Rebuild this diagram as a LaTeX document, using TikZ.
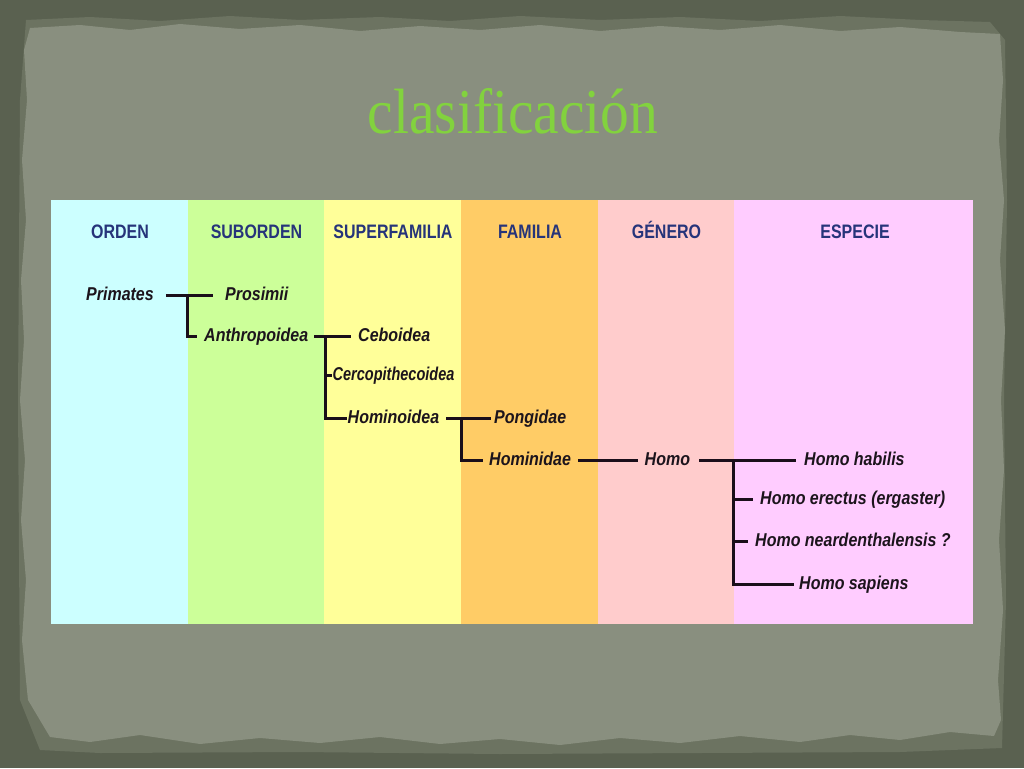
\documentclass[tikz,border=0pt]{standalone}
\usepackage{fontspec}
\newfontfamily\labf[FakeStretch=0.86]{Liberation Sans}
\newfontfamily\cercof[FakeStretch=0.78]{Liberation Sans}
\newfontfamily\headf[FakeStretch=0.82]{Liberation Sans}
\newfontfamily\titlef[FakeStretch=0.9]{Liberation Serif}
\definecolor{outerc}{RGB}{90,97,80}
\definecolor{fringec}{RGB}{108,115,97}
\definecolor{paperc}{RGB}{137,143,127}
\definecolor{titlec}{RGB}{130,210,62}
\definecolor{headc}{RGB}{38,52,122}
\definecolor{labc}{RGB}{28,20,28}
\definecolor{linec}{RGB}{26,14,26}
\definecolor{c1}{RGB}{204,255,255}
\definecolor{c2}{RGB}{204,255,153}
\definecolor{c3}{RGB}{255,255,153}
\definecolor{c4}{RGB}{255,204,102}
\definecolor{c5}{RGB}{255,204,204}
\definecolor{c6}{RGB}{255,204,255}
\tikzset{
  tree/.style={line width=3pt, draw=linec},
  lab/.style={font=\labf\bfseries\itshape\fontsize{18.6}{20}\selectfont, text=labc, inner sep=0pt, anchor=west, text height=13.5pt, text depth=3.5pt},
  cerco/.style={lab, font=\cercof\bfseries\itshape\fontsize{18.6}{20}\selectfont},
  head/.style={font=\headf\bfseries\fontsize{19.5}{21}\selectfont, text=headc, inner sep=0pt, anchor=base},
}
\begin{document}
\begin{tikzpicture}[x=1pt,y=-1pt]
\useasboundingbox (0,0) rectangle (1024,768);
% background
\fill[outerc] (0,0) rectangle (1024,768);
% torn fringe
\fill[fringec] (26,20) -- (90,17) -- (160,21) -- (230,16) -- (300,20) -- (380,17) -- (450,21) -- (520,16) -- (600,20) -- (680,17) -- (760,21) -- (840,16) -- (920,20) -- (990,22) -- (1005,40) -- (1007,200) -- (1004,400) -- (1006,600) -- (1002,748) -- (900,752) -- (700,753) -- (500,754) -- (300,752) -- (100,753) -- (40,750) -- (20,700) -- (18,400) -- (20,100) -- cycle;
% paper
\fill[paperc] (30,28) -- (80,25) -- (130,30) -- (180,24) -- (240,29) -- (300,25) -- (360,31) -- (420,26) -- (480,30) -- (540,25) -- (600,31) -- (660,26) -- (720,30) -- (780,25) -- (840,31) -- (900,27) -- (960,32) -- (1000,34)
 -- (1003,80) -- (999,140) -- (1004,200) -- (1000,260) -- (1005,330) -- (1001,400) -- (1004,470) -- (999,540) -- (1003,610) -- (998,680) -- (1001,720) -- (994,736)
 -- (950,732) -- (900,740) -- (850,735) -- (800,742) -- (740,736) -- (680,743) -- (620,738) -- (560,745) -- (500,739) -- (440,744) -- (380,737) -- (320,743) -- (260,738) -- (200,744) -- (140,735) -- (90,742) -- (50,737)
 -- (28,700) -- (22,640) -- (26,580) -- (21,520) -- (25,460) -- (20,400) -- (24,340) -- (21,280) -- (26,220) -- (22,160) -- (27,100) -- (24,50) -- cycle;
% title
\node[font=\titlef\fontsize{64}{70}\selectfont, text=titlec, inner sep=0pt, anchor=base] (title) at (513,133) {clasificación};
% columns
\fill[c1] (51,200) rectangle (188,623.5);
\fill[c2] (188,200) rectangle (324,623.5);
\fill[c3] (324,200) rectangle (461,623.5);
\fill[c4] (461,200) rectangle (598,623.5);
\fill[c5] (598,200) rectangle (734,623.5);
\fill[c6] (734,200) rectangle (973,623.5);
% headers
\node[head] (h1) at (120,238.5) {ORDEN};
\node[head] (h2) at (256.5,238.5) {SUBORDEN};
\node[head] (h3) at (393,238.5) {SUPERFAMILIA};
\node[head] (h4) at (530,238.5) {FAMILIA};
\node[head] (h5) at (666.5,238.5) {GÉNERO};
\node[head] (h6) at (855,238.5) {ESPECIE};
% labels
\node[lab] (primates) at (86,295.7) {Primates};
\node[lab] (prosimii) at (225,295.7) {Prosimii};
\node[lab] (anthro) at (204,336) {Anthropoidea};
\node[lab] (ceboidea) at (358,336) {Ceboidea};
\node[cerco] (cercop) at (332.5,375.5) {Cercopithecoidea};
\node[lab] (hominoidea) at (347.5,418.5) {Hominoidea};
\node[lab] (pongidae) at (494,418.5) {Pongidae};
\node[lab] (hominidae) at (489,460) {Hominidae};
\node[lab] (homo) at (644.5,460) {Homo};
\node[lab] (habilis) at (804,460) {Homo habilis};
\node[lab] (erectus) at (760,499.5) {Homo erectus (ergaster)};
\node[lab] (neand) at (755,541.5) {Homo neardenthalensis ?};
\node[lab] (sapiens) at (799,584) {Homo sapiens};
% junctions
\coordinate (j1) at (187.7,295.7);
\coordinate (j2) at (325,336);
\coordinate (j3) at (461,418.5);
\coordinate (j4) at (733.6,460);
% connectors
\draw[tree, shorten <=12pt, shorten >=12pt] (primates.east) -- (prosimii.west);
\draw[tree, shorten >=7pt] (j1) |- (anthro.west);
\draw[tree, shorten <=6pt, shorten >=7pt] (anthro.east) -- (ceboidea.west);
\draw[tree, shorten >=1pt] (j2) |- (cercop.west);
\draw[tree, shorten >=0.5pt] (j2) |- (hominoidea.west);
\draw[tree, shorten <=7pt, shorten >=3pt] (hominoidea.east) -- (pongidae.west);
\draw[tree, shorten >=6pt] (j3) |- (hominidae.west);
\draw[tree, shorten <=7pt, shorten >=7pt] (hominidae.east) -- (homo.west);
\draw[tree, shorten <=9pt, shorten >=8pt] (homo.east) -- (habilis.west);
\draw[tree, shorten >=7pt] (j4) |- (erectus.west);
\draw[tree, shorten >=7pt] (j4) |- (neand.west);
\draw[tree, shorten >=5pt] (j4) |- (sapiens.west);
\end{tikzpicture}
\end{document}
